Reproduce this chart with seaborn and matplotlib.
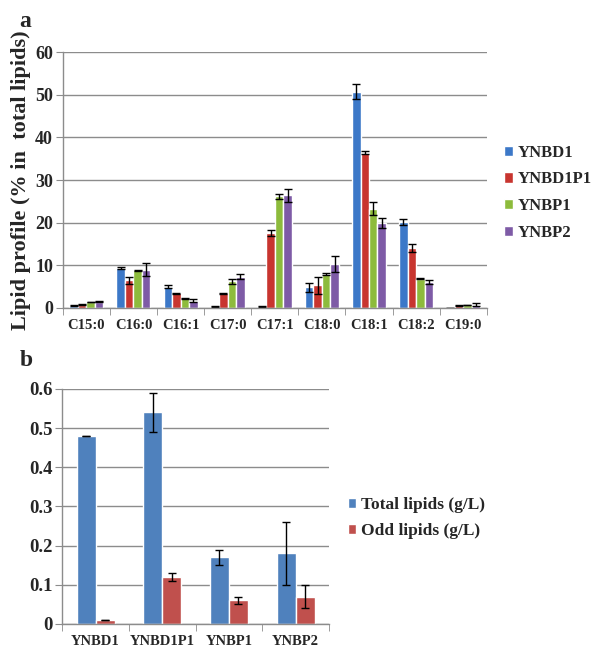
import numpy as np
import pandas as pd
import matplotlib
matplotlib.use("Agg")
import matplotlib.pyplot as plt
import seaborn as sns
from matplotlib.ticker import FixedLocator

# ---- panel a data ----
acids = ["C15:0", "C16:0", "C16:1", "C17:0", "C17:1", "C18:0", "C18:1", "C18:2", "C19:0"]
strains = ["YNBD1", "YNBD1P1", "YNBP1", "YNBP2"]
ynbd1 = [0.5, 9.3, 5.0, 0.4, 0.4, 4.8, 50.7, 20.1, 0.0]
ynbd1p1 = [0.8, 6.5, 3.4, 3.4, 17.6, 5.3, 36.4, 14.0, 0.6]
ynbp1 = [1.4, 8.8, 2.3, 6.2, 26.2, 7.9, 23.3, 6.9, 0.7]
ynbp2 = [1.5, 9.0, 1.7, 7.3, 26.4, 10.3, 20.0, 6.1, 0.8]
ynbd1_err = [0.1, 0.2, 0.3, 0.1, 0.1, 1.0, 1.8, 0.7, 0.0]
ynbd1p1_err = [0.1, 0.8, 0.1, 0.1, 0.7, 2.0, 0.4, 0.9, 0.1]
ynbp1_err = [0.1, 0.2, 0.1, 0.5, 0.6, 0.2, 1.6, 0.2, 0.1]
ynbp2_err = [0.2, 1.5, 0.4, 0.6, 1.6, 1.8, 1.2, 0.4, 0.3]

# ---- panel b data ----
groups = ["YNBD1", "YNBD1P1", "YNBP1", "YNBP2"]
measures = ["Total lipids (g/L)", "Odd lipids (g/L)"]
total = [0.48, 0.54, 0.17, 0.18]
odd = [0.01, 0.12, 0.06, 0.07]
total_err = [0.0, 0.05, 0.02, 0.08]
odd_err = [0.0, 0.01, 0.01, 0.03]

colors_a = ["#3C78C8", "#C8352F", "#8DBB3C", "#7E5BA6"]
colors_b = ["#4F81BD", "#C0504D"]
grid_c = "#8C8C8C"

sns.set_style("white")
plt.rcParams["font.family"] = ["Liberation Serif", "DejaVu Serif"]
plt.rcParams["font.weight"] = "bold"

fig = plt.figure(figsize=(5.98, 6.51), dpi=100)
ax_a = fig.add_axes([0.105, 0.527, 0.709, 0.393])
ax_b = fig.add_axes([0.104, 0.0415, 0.446, 0.361])

df_a = pd.DataFrame({
    "acid": acids * 4,
    "strain": [s for s in strains for _ in acids],
    "value": ynbd1 + ynbd1p1 + ynbp1 + ynbp2,
    "err": ynbd1_err + ynbd1p1_err + ynbp1_err + ynbp2_err,
})
df_b = pd.DataFrame({
    "group": groups * 2,
    "measure": [m for m in measures for _ in groups],
    "value": total + odd,
    "err": total_err + odd_err,
})


def style_axes(ax, n, ymax, ystep, fmt, ysize, xsize):
    ax.set_xlim(-0.5, n - 0.5)
    ax.set_ylim(0, ymax)
    ax.set_yticks(np.arange(0, ymax + ystep / 2, ystep))
    ax.yaxis.set_major_formatter(plt.FuncFormatter(lambda v, p: fmt(v)))
    ax.yaxis.grid(True, color=grid_c, lw=1)
    ax.set_axisbelow(True)
    for s in ["top", "right"]:
        ax.spines[s].set_visible(False)
    for s in ["left", "bottom"]:
        ax.spines[s].set_color(grid_c)
        ax.spines[s].set_linewidth(1)
    ax.tick_params(axis="y", length=5, color=grid_c, labelsize=ysize, pad=2, left=True)
    ax.tick_params(axis="x", which="major", length=0, labelsize=xsize, pad=8)
    ax.xaxis.set_minor_locator(FixedLocator(np.arange(-0.5, n, 1.0)))
    ax.tick_params(axis="x", which="minor", length=5, color=grid_c, bottom=True)
    for lab in ax.get_xticklabels() + ax.get_yticklabels():
        lab.set_fontweight("bold")
    ax.set_xlabel("")
    ax.set_ylabel("")


def add_errors(ax, df, cat_col, hue_col, hue_levels, cats):
    for cont, lvl in zip(ax.containers, hue_levels):
        sub = df[df[hue_col] == lvl].set_index(cat_col).loc[cats]
        xs = [b.get_x() + b.get_width() / 2 for b in cont]
        hs = [b.get_height() for b in cont]
        ax.errorbar(xs, hs, yerr=sub["err"].values, fmt="none", ecolor="black",
                    elinewidth=1, capsize=3, capthick=1)


# panel a
sns.barplot(data=df_a, x="acid", y="value", hue="strain", order=acids, hue_order=strains,
            palette=colors_a, width=0.72, gap=0, ax=ax_a, errorbar=None, saturation=1)
add_errors(ax_a, df_a, "acid", "strain", strains, acids)
style_axes(ax_a, len(acids), 60, 10, lambda v: f"{v:.0f}", 13, 10.5)
ax_a.set_ylabel("Lipid profile (% in  total lipids)", fontsize=16, fontweight="bold", labelpad=3)
ax_a.legend(loc="center left", bbox_to_anchor=(1.04, 0.45), frameon=False, borderpad=0,
            borderaxespad=0, prop={"size": 12, "weight": "bold"}, handlelength=0.55,
            handleheight=0.55, handletextpad=0.3, labelspacing=0.65)

# panel b
sns.barplot(data=df_b, x="group", y="value", hue="measure", order=groups, hue_order=measures,
            palette=colors_b, width=0.57, gap=0, ax=ax_b, errorbar=None, saturation=1)
add_errors(ax_b, df_b, "group", "measure", measures, groups)
style_axes(ax_b, len(groups), 0.6, 0.1, lambda v: "0" if v == 0 else f"{v:.1f}", 13.5, 10.5)
ax_b.legend(loc="center left", bbox_to_anchor=(1.07, 0.45), frameon=False, borderpad=0,
            borderaxespad=0, prop={"size": 12.5, "weight": "bold"}, handlelength=0.5,
            handleheight=0.5, handletextpad=0.3, labelspacing=0.6)

fig.text(0.033, 0.983, "a", fontsize=17, fontweight="bold", va="top")
fig.text(0.033, 0.462, "b", fontsize=17, fontweight="bold", va="top")

plt.savefig("out.png", dpi=100)
plt.close()
